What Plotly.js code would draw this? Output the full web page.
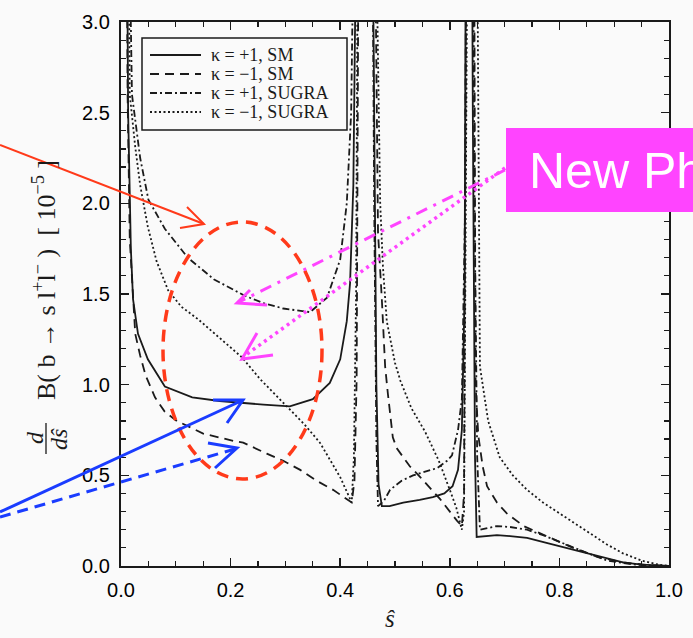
<!DOCTYPE html>
<html>
<head>
<meta charset="utf-8">
<script src="https://cdn.plot.ly/plotly-3.0.1.min.js"></script>
<style>html,body{margin:0;padding:0;background:#fafafa;}#chart{width:693px;height:638px;}</style>
</head>
<body>
<div id="chart"></div>
<script>
// ---- data ----
const seriesNames = ["κ = +1, SM", "κ = −1, SM", "κ = +1, SUGRA", "κ = −1, SUGRA"];

const sSMp = [0.008,0.013,0.018,0.022,0.031,0.049,0.08,0.13,0.18,0.217,0.26,0.308,0.35,0.381,0.40,0.412,0.418,0.424,0.428,0.445,0.458,0.462,0.466,0.47,0.476,0.49,0.515,0.545,0.569,0.59,0.605,0.615,0.622,0.627,0.634,0.642,0.646,0.649,0.67,0.686,0.71,0.741,0.78,0.825,0.87,0.916,0.95,0.98,1.0];
const vSMp = [5,2.5,1.75,1.47,1.28,1.14,0.99,0.93,0.91,0.90,0.89,0.88,0.92,1.01,1.14,1.35,1.56,2.1,3.2,8,4,2.5,1.0,0.45,0.33,0.33,0.35,0.365,0.38,0.40,0.44,0.53,0.75,1.5,8,2.5,0.6,0.16,0.165,0.17,0.165,0.155,0.125,0.09,0.055,0.02,0.008,0.001,0];

const sSMm = [0.008,0.012,0.016,0.026,0.035,0.045,0.062,0.08,0.102,0.15,0.205,0.223,0.266,0.296,0.327,0.357,0.387,0.412,0.421,0.426,0.43,0.433,0.445,0.462,0.469,0.476,0.482,0.487,0.496,0.503,0.515,0.527,0.546,0.558,0.582,0.613,0.622,0.626,0.630,0.64,0.645,0.647,0.652,0.66,0.668,0.686,0.704,0.735,0.765,0.825,0.87,0.916,0.96,1.0];
const vSMm = [5,2.6,1.8,1.28,1.16,1.05,0.93,0.85,0.80,0.73,0.69,0.68,0.62,0.58,0.53,0.47,0.42,0.37,0.35,0.47,1.03,3.2,8,4,1.84,1.47,1.10,0.95,0.71,0.65,0.60,0.55,0.49,0.45,0.37,0.25,0.22,0.4,3.5,8,3,1.0,0.72,0.55,0.44,0.35,0.29,0.22,0.18,0.10,0.05,0.02,0.005,0];

const sSGp = [0.01,0.02,0.035,0.05,0.08,0.122,0.17,0.226,0.26,0.296,0.345,0.376,0.40,0.412,0.42,0.426,0.432,0.445,0.458,0.462,0.466,0.469,0.48,0.491,0.512,0.533,0.555,0.577,0.595,0.604,0.615,0.622,0.628,0.636,0.645,0.65,0.655,0.67,0.686,0.71,0.741,0.77,0.796,0.84,0.887,0.93,0.97,1.0];
const vSGp = [4.5,2.6,2.25,2.02,1.86,1.70,1.58,1.49,1.45,1.42,1.40,1.48,1.69,2.0,2.5,3.3,6,8,4,2.0,0.7,0.33,0.36,0.42,0.47,0.50,0.52,0.54,0.58,0.61,0.75,0.92,2,8,2.0,0.6,0.2,0.21,0.22,0.215,0.20,0.17,0.14,0.085,0.03,0.01,0.002,0];

const sSGm = [0.01,0.016,0.026,0.035,0.049,0.065,0.086,0.11,0.141,0.18,0.221,0.254,0.28,0.308,0.335,0.363,0.385,0.40,0.412,0.421,0.425,0.429,0.432,0.445,0.46,0.468,0.473,0.478,0.485,0.491,0.50,0.51,0.53,0.555,0.58,0.60,0.612,0.622,0.626,0.632,0.641,0.65,0.655,0.67,0.691,0.715,0.741,0.77,0.796,0.826,0.856,0.886,0.916,0.95,0.98,1.0];
const vSGm = [5,2.6,2.31,2.1,1.87,1.68,1.52,1.43,1.36,1.26,1.15,1.03,0.95,0.86,0.78,0.68,0.57,0.49,0.41,0.35,0.6,1.5,3.5,8,6,3.0,2.0,1.65,1.35,1.25,1.12,1.02,0.87,0.74,0.58,0.42,0.32,0.2,0.3,3.5,8,3.5,1.1,0.8,0.6,0.5,0.42,0.35,0.3,0.24,0.18,0.12,0.07,0.03,0.008,0];

const xTickVals = [0.0,0.2,0.4,0.6,0.8,1.0];
const xTickText = ["0.0","0.2","0.4","0.6","0.8","1.0"];
const yTickVals = [0.0,0.5,1.0,1.5,2.0,2.5,3.0];
const yTickText = ["0.0","0.5","1.0","1.5","2.0","2.5","3.0"];

// ---- layout helpers (pixel -> paper) ----
const L = 121, R = 669, T = 22, B = 566;
const PX = p => (p - L) / (R - L);
const PY = p => (B - p) / (B - T);

const ink = "#1a1a1a";
const dashes = ["solid", "9px,6px", "7px,3px,2px,3px", "2px,2.5px"];
const sx = [sSMp, sSMm, sSGp, sSGm];
const sy = [vSMp, vSMm, vSGp, vSGm];

const traces = seriesNames.map((n, i) => ({
  x: sx[i], y: sy[i], name: n, type: "scatter", mode: "lines",
  line: {color: ink, width: 1.8, dash: dashes[i]},
  hoverinfo: "skip", showlegend: false
}));

function seg(x0, y0, x1, y1, color, width, dash) {
  return {type: "line", xref: "paper", yref: "paper", x0: PX(x0), y0: PY(y0), x1: PX(x1), y1: PY(y1),
          line: {color: color, width: width, dash: dash || "solid"}};
}
function vhead(tip, w1, w2, color, width) {
  const p = [w1, tip, w2].map((q, k) => (k ? "L" : "M") + PX(q[0]) + "," + PY(q[1])).join(" ");
  return {type: "path", xref: "paper", yref: "paper", path: p, line: {color: color, width: width}};
}

const red = "#ff3a1a", mag = "#ff44ff", blue = "#1a3cff";
const serif = "Liberation Serif, Times New Roman, serif";
const sans = "Liberation Sans, Arial, sans-serif";

const shapes = [
  // red dashed ellipse
  {type: "circle", xref: "paper", yref: "paper", x0: PX(163), x1: PX(322), y0: PY(479), y1: PY(222),
   line: {color: red, width: 3.5, dash: "12px,8px"}},
  // red arrow
  seg(0, 145, 204, 224, red, 2),
  vhead([204, 224], [187, 207], [180, 228], red, 2),
  // magenta box
  {type: "rect", xref: "paper", yref: "paper", x0: PX(506), x1: PX(720), y0: PY(212), y1: PY(128),
   fillcolor: mag, line: {width: 0}},
  // magenta arrows
  seg(505, 170, 239, 302, mag, 3, "12px,7px,3px,7px"),
  vhead([237, 303], [250, 290], [267, 305], mag, 3),
  seg(505, 168, 243, 357, mag, 3.5, "3px,4px"),
  vhead([242, 359], [257, 333], [273, 355], mag, 3),
  // blue arrows
  seg(0, 512, 241, 401, blue, 3),
  vhead([243, 400], [213, 400], [227, 423], blue, 3),
  seg(0, 517, 235, 449, blue, 3, "11px,7px"),
  vhead([237, 448], [208, 443], [215, 468], blue, 3),
  // fraction bar of y title
  seg(46, 423, 46, 454, ink, 1.3),
  // legend box
  {type: "rect", xref: "paper", yref: "paper", x0: PX(142), x1: PX(347), y0: PY(130), y1: PY(38),
   fillcolor: "#fafafa", line: {color: ink, width: 1.5}}
];

const annotations = [
  {xref: "paper", yref: "paper", x: PX(527), y: PY(171), xanchor: "left", yanchor: "middle",
   text: "New Physics", showarrow: false, font: {family: sans, size: 50, color: "#ffffff"}},
  // y-axis title (rotated)
  {xref: "paper", yref: "paper", x: PX(44), y: PY(280), xanchor: "center", yanchor: "middle", textangle: -90,
   text: "B( b → s l<sup>+</sup>l<sup>−</sup> )  [ 10<sup>−5</sup> ]", showarrow: false,
   font: {family: serif, size: 26, color: ink}},
  {xref: "paper", yref: "paper", x: PX(35), y: PY(438), xanchor: "center", yanchor: "middle", textangle: -90,
   text: "<i>d</i>", showarrow: false, font: {family: serif, size: 24, color: ink}},
  {xref: "paper", yref: "paper", x: PX(59), y: PY(439), xanchor: "center", yanchor: "middle", textangle: -90,
   text: "<i>dŝ</i>", showarrow: false, font: {family: serif, size: 24, color: ink}},
  // x-axis title
  {xref: "paper", yref: "paper", x: PX(390), y: PY(618), xanchor: "center", yanchor: "middle",
   text: "<i>ŝ</i>", showarrow: false, font: {family: serif, size: 25, color: ink}}
];

// hand-drawn legend matching the original box
const legendRows = [55, 74, 93, 112];
seriesNames.forEach((n, i) => {
  shapes.push(seg(150, legendRows[i], 201, legendRows[i], ink, 1.8, dashes[i]));
  annotations.push({xref: "paper", yref: "paper", x: PX(209), y: PY(legendRows[i]), xanchor: "left", yanchor: "middle",
    text: n, showarrow: false, font: {family: serif, size: 18, color: ink}});
});

const axisCommon = {
  showgrid: false, zeroline: false, showline: true, linecolor: ink, linewidth: 2.2, mirror: "ticks",
  ticks: "inside", ticklen: 8, tickwidth: 1.5, tickcolor: ink, ticklabelstandoff: 5,
  tickfont: {family: sans, size: 20, color: "#000"}
};

const layout = {
  width: 693, height: 638,
  margin: {l: L, r: 693 - R, t: T, b: 638 - B},
  paper_bgcolor: "#fafafa", plot_bgcolor: "#fafafa",
  showlegend: false,
  xaxis: Object.assign({}, axisCommon, {range: [0, 1.0], tickvals: xTickVals, ticktext: xTickText,
         minor: {dtick: 0.05, ticks: "inside", ticklen: 5, tickcolor: ink, tickwidth: 1.2}}),
  yaxis: Object.assign({}, axisCommon, {range: [0, 3.0], tickvals: yTickVals, ticktext: yTickText,
         minor: {dtick: 0.1, ticks: "inside", ticklen: 5, tickcolor: ink, tickwidth: 1.2}}),
  shapes: shapes,
  annotations: annotations
};

Plotly.newPlot("chart", traces, layout, {staticPlot: true, displayModeBar: false});
</script>
</body>
</html>
